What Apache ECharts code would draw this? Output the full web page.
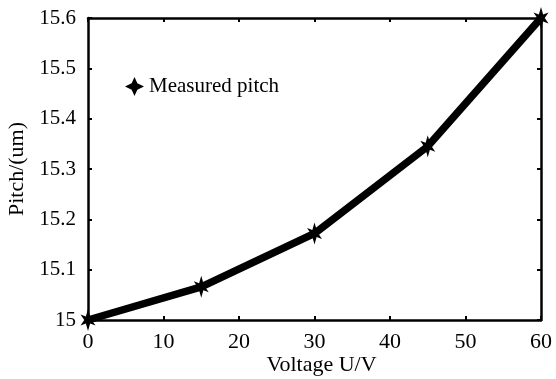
<!DOCTYPE html>
<html>
<head>
<meta charset="utf-8">
<script src="https://cdn.jsdelivr.net/npm/echarts@6/dist/echarts.min.js"></script>
<style>html,body{margin:0;padding:0;background:#fff;}#c{width:556px;height:379px;}</style>
</head>
<body>
<div id="c"></div>
<script>
var voltage = [0, 15, 30, 45, 60];
var pitch = [15.0, 15.066, 15.172, 15.345, 15.6];
var seriesName = 'Measured pitch';
var xTitle = 'Voltage U/V';
var yTitle = 'Pitch/(um)';

var FONT = '"Liberation Serif", "Times New Roman", serif';
var star = 'path://M0,-11 L2,-3.5 L7,-5.5 L3.5,0 L7,5.5 L2,3.5 L0,11 L-2,3.5 L-7,5.5 L-3.5,0 L-7,-5.5 L-2,-3.5 Z';
var legendIcon = 'path://M0,-10 L3,-3.5 L10,0 L3,3.5 L0,10 L-3,3.5 L-10,0 L-3,-3.5 Z';

var chart = echarts.init(document.getElementById('c'), null, {renderer: 'canvas'});
var axisCommon = {
  axisLine: {show: true, onZero: false, lineStyle: {color: '#000', width: 2.5}},
  axisTick: {show: true, inside: true, length: 4, lineStyle: {color: '#000', width: 2}},
  splitLine: {show: false}
};
chart.setOption({
  backgroundColor: '#fff',
  animation: false,
  grid: {left: 88, right: 15, top: 18, bottom: 59, containLabel: false, outerBoundsMode: 'none'},
  legend: {
    left: 120, top: 71,
    itemWidth: 19, itemHeight: 20, itemGap: 5,
    icon: legendIcon,
    data: [seriesName],
    textStyle: {fontFamily: FONT, fontSize: 21, color: '#000'}
  },
  xAxis: [
    Object.assign({
      type: 'value', min: 0, max: 60, interval: 10, position: 'bottom',
      name: xTitle, nameLocation: 'middle', nameGap: 34, nameMoveOverlap: false,
      nameTextStyle: {fontFamily: FONT, fontSize: 22, color: '#000', padding: [0, 0, 0, 14]},
      axisLabel: {fontFamily: FONT, fontSize: 22, color: '#000', margin: 11}
    }, axisCommon),
    Object.assign({
      type: 'value', min: 0, max: 60, interval: 10, position: 'top',
      axisLabel: {show: false}
    }, axisCommon)
  ],
  yAxis: [
    Object.assign({
      type: 'value', min: 15, max: 15.6, interval: 0.1, position: 'left',
      name: yTitle, nameLocation: 'middle', nameGap: 60, nameMoveOverlap: false,
      nameTextStyle: {fontFamily: FONT, fontSize: 22, color: '#000'},
      axisLabel: {fontFamily: FONT, fontSize: 21, color: '#000', margin: 12,
        formatter: function (v) { return String(parseFloat(v.toFixed(1))); }}
    }, axisCommon),
    Object.assign({
      type: 'value', min: 15, max: 15.6, interval: 0.1, position: 'right',
      axisLabel: {show: false}
    }, axisCommon)
  ],
  series: [{
    name: seriesName,
    type: 'line',
    xAxisIndex: 0, yAxisIndex: 0,
    data: voltage.map(function (v, i) { return [v, pitch[i]]; }),
    symbol: star,
    symbolSize: [15, 22],
    showAllSymbol: true,
    lineStyle: {color: '#000', width: 7.5},
    itemStyle: {color: '#000', borderColor: '#000', borderWidth: 0},
    clip: false
  }]
});
</script>
</body>
</html>
